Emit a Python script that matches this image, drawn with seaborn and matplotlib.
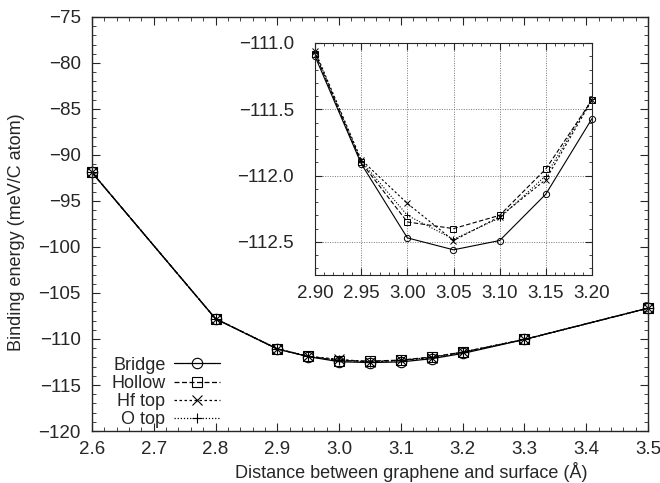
import numpy as np
import pandas as pd
import matplotlib
matplotlib.use('Agg')
import matplotlib.pyplot as plt
from matplotlib.ticker import MultipleLocator, FuncFormatter
import seaborn as sns

# data
distance = [2.6, 2.8, 2.9, 2.95, 3.0, 3.05, 3.1, 3.15, 3.2, 3.3, 3.5]
bridge = [-91.9, -107.8, -111.10, -111.91, -112.47, -112.56, -112.49, -112.14, -111.57, -110.05, -106.65]
hollow = [-91.9, -107.8, -111.08, -111.90, -112.35, -112.40, -112.30, -111.95, -111.43, -110.05, -106.65]
hf_top = [-91.9, -107.8, -111.06, -111.88, -112.21, -112.49, -112.31, -112.03, -111.43, -110.05, -106.65]
o_top = [-91.9, -107.8, -111.07, -111.89, -112.30, -112.48, -112.32, -112.00, -111.42, -110.05, -106.65]

labels = ['Bridge', 'Hollow', 'Hf top', 'O top']
markers = ['o', 's', 'x', '+']
styles = ['-', (0, (4, 2)), (0, (2, 2)), (0, (1, 1.5))]

sns.set_style('ticks')
plt.rcParams['font.family'] = ['Liberation Sans', 'DejaVu Sans']
fs = 13.5   # tick labels
lfs = 13    # axis labels / legend
plt.rcParams['font.size'] = lfs


def fmt(n):
    # proper minus sign like the original
    return FuncFormatter(lambda v, p: ('%.*f' % (n, v)).replace('-', '\u2212'))


df = pd.DataFrame({'d': distance, 'Bridge': bridge, 'Hollow': hollow,
                   'Hf top': hf_top, 'O top': o_top})

fig = plt.figure(figsize=(6.6, 4.83), dpi=100)
ax = fig.add_axes([92/660, 1 - 431/483, 556/660, 414/483])

for lab, mk, ls in zip(labels, markers, styles):
    sns.lineplot(data=df, x='d', y=lab, ax=ax, color='black', lw=0.9,
                 linestyle=ls, marker=mk, markersize=7.5, markerfacecolor='none',
                 markeredgecolor='black', markeredgewidth=0.8, label=lab,
                 clip_on=False)

ax.set_xlim(2.6, 3.5)
ax.set_ylim(-120, -75)
ax.xaxis.set_major_locator(MultipleLocator(0.1))
ax.xaxis.set_minor_locator(MultipleLocator(0.02))
ax.yaxis.set_major_locator(MultipleLocator(5))
ax.yaxis.set_minor_locator(MultipleLocator(1))
ax.xaxis.set_major_formatter(fmt(1))
ax.yaxis.set_major_formatter(fmt(0))
ax.tick_params(which='both', direction='in', top=True, right=True, labelsize=fs)
ax.tick_params(which='major', length=6)
ax.tick_params(which='minor', length=3)
ax.tick_params(axis='y', pad=8)
ax.tick_params(axis='x', pad=7)
for s in ax.spines.values():
    s.set_linewidth(1.0)
ax.set_xlabel('Distance between graphene and surface (Å)', fontsize=lfs)
ax.set_ylabel('Binding energy (meV/C atom)', fontsize=lfs)
ax.xaxis.set_label_coords(0.574, -0.075)
ax.yaxis.set_label_coords(-0.12, 0.48)

ax.legend(loc='lower left', bbox_to_anchor=(0.015, -0.02), frameon=False,
          markerfirst=False, handlelength=2.5, labelspacing=0.07,
          handletextpad=0.5, fontsize=lfs, borderaxespad=0.2)

# inset
ins = fig.add_axes([315/660, 1 - 275/483, 277/660, 232/483])
sub = df[(df['d'] >= 2.9) & (df['d'] <= 3.2)]
for lab, mk, ls in zip(labels, markers, styles):
    sns.lineplot(data=sub, x='d', y=lab, ax=ins, color='black', lw=0.8,
                 linestyle=ls, marker=mk, markersize=4.5, markerfacecolor='none',
                 markeredgecolor='black', markeredgewidth=0.7, legend=False,
                 clip_on=False)
ins.set_xlim(2.9, 3.2)
ins.set_ylim(-112.75, -111.0)
ins.xaxis.set_major_locator(MultipleLocator(0.05))
ins.xaxis.set_minor_locator(MultipleLocator(0.01))
ins.yaxis.set_major_locator(MultipleLocator(0.5))
ins.yaxis.set_minor_locator(MultipleLocator(0.1))
ins.xaxis.set_major_formatter(fmt(2))
ins.yaxis.set_major_formatter(fmt(1))
ins.tick_params(which='both', direction='in', top=True, right=True, labelsize=fs)
ins.tick_params(which='major', length=5)
ins.tick_params(which='minor', length=2.5)
ins.tick_params(axis='y', pad=15)
ins.tick_params(axis='x', pad=7)
ins.grid(True, which='major', color='#777777', linestyle=(0, (1, 1.5)), lw=0.7)
ins.set_xlabel('')
ins.set_ylabel('')

fig.savefig('out.png', dpi=100)
